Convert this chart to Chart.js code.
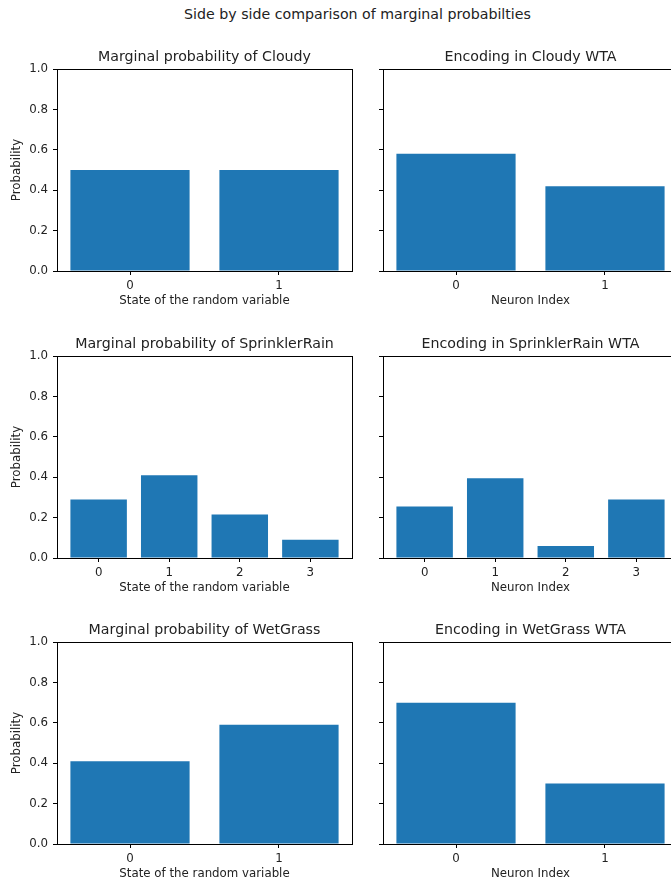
<!DOCTYPE html>
<html>
<head>
<meta charset="utf-8">
<script src="https://cdn.jsdelivr.net/npm/chart.js@4"></script>
<style>
  html, body { margin: 0; padding: 0; background: #fff; overflow: hidden; width: 671px; height: 886px; }
  .sup { position: absolute; left: 0; width: 715px; top: 6px; text-align: center;
         font: 14.2px "DejaVu Sans", sans-serif; line-height: 17px; color: #222; }
  .plot { position: absolute; width: 360px; height: 268px; }
</style>
</head>
<body>
<div class="sup">Side by side comparison of marginal probabilties</div>
<div class="plot" style="left:0;top:40px"><canvas id="c1"></canvas></div>
<div class="plot" style="left:326px;top:40px"><canvas id="c2"></canvas></div>
<div class="plot" style="left:0;top:327px"><canvas id="c3"></canvas></div>
<div class="plot" style="left:326px;top:327px"><canvas id="c4"></canvas></div>
<div class="plot" style="left:0;top:613px"><canvas id="c5"></canvas></div>
<div class="plot" style="left:326px;top:613px"><canvas id="c6"></canvas></div>
<script>
// values
let cloudyMarginal = [0.5, 0.5];
let cloudyWta = [0.58, 0.42];
let sprinklerRainMarginal = [0.29, 0.41, 0.215, 0.09];
let sprinklerRainWta = [0.255, 0.395, 0.06, 0.29];
let wetGrassMarginal = [0.41, 0.59];
let wetGrassWta = [0.70, 0.30];
let yTicks = [0, 0.2, 0.4, 0.6, 0.8, 1.0];

const blue = "#1f77b4";
const ink = "#222";
const font = "'DejaVu Sans', sans-serif";
const small = { family: font, size: 11.8, lineHeight: 1.2 };

// draws the full box of spines like matplotlib
const boxPlugin = {
  id: "box",
  afterDraw(chart) {
    const a = chart.chartArea;
    const ctx = chart.ctx;
    ctx.save();
    ctx.strokeStyle = "#000";
    ctx.lineWidth = 1;
    ctx.strokeRect(Math.round(a.left) + 0.5, Math.round(a.top) + 0.5,
      Math.round(a.right - a.left), Math.round(a.bottom - a.top));
    ctx.restore();
  },
};

function makeChart(id, title, values, leftSide) {
  const n = values.length;
  const margin = (n - 1 + 0.8) * 0.05;
  const points = values.map((v, i) => ({ x: i, y: v }));

  new Chart(document.getElementById(id), {
    type: "bar",
    data: {
      datasets: [{ data: points, backgroundColor: blue, borderWidth: 0,
        categoryPercentage: 1, barPercentage: 0.8 }],
    },
    plugins: [boxPlugin],
    options: {
      responsive: false,
      animation: false,
      layout: { padding: { left: 0, right: 8, top: 0, bottom: 0 } },
      plugins: {
        legend: { display: false },
        tooltip: { enabled: false },
        title: {
          display: true,
          fullSize: false,
          text: title,
          color: ink,
          font: { family: font, size: 14.2, weight: "normal", lineHeight: 1.2 },
          padding: { top: 8.8, bottom: 3.2 },
        },
      },
      scales: {
        x: {
          type: "linear",
          min: -0.4 - margin,
          max: n - 1 + 0.4 + margin,
          offset: false,
          border: { display: false },
          grid: { offset: false, drawOnChartArea: false, drawTicks: true, tickLength: 4, color: "#000" },
          ticks: {
            stepSize: 1, includeBounds: false, color: ink, padding: 4,
            maxRotation: 0, autoSkip: false, font: small,
            callback: (v) => String(v),
          },
          title: {
            display: true,
            text: leftSide ? "State of the random variable" : "Neuron Index",
            color: ink,
            font: small,
            padding: { top: 0, bottom: 0 },
          },
          afterFit: (s) => { s.height = 37; },
        },
        y: {
          min: 0,
          max: 1,
          border: { display: false },
          grid: { drawOnChartArea: false, drawTicks: true, tickLength: 4, color: "#000" },
          afterBuildTicks: (s) => { s.ticks = yTicks.map((v) => ({ value: v })); },
          ticks: {
            display: leftSide,
            color: ink,
            padding: 5,
            font: small,
            callback: (v) => v.toFixed(1),
          },
          title: {
            display: leftSide,
            text: "Probability",
            color: ink,
            font: small,
            padding: { top: 10.2, bottom: 0 },
          },
          afterFit: (s) => { s.width = 57; },
        },
      },
    },
  });
}

for (const id of ["c1", "c2", "c3", "c4", "c5", "c6"]) {
  const c = document.getElementById(id);
  c.width = 360;
  c.height = 268;
}

makeChart("c1", "Marginal probability of Cloudy", cloudyMarginal, true);
makeChart("c2", "Encoding in Cloudy WTA", cloudyWta, false);
makeChart("c3", "Marginal probability of SprinklerRain", sprinklerRainMarginal, true);
makeChart("c4", "Encoding in SprinklerRain WTA", sprinklerRainWta, false);
makeChart("c5", "Marginal probability of WetGrass", wetGrassMarginal, true);
makeChart("c6", "Encoding in WetGrass WTA", wetGrassWta, false);
</script>
</body>
</html>
